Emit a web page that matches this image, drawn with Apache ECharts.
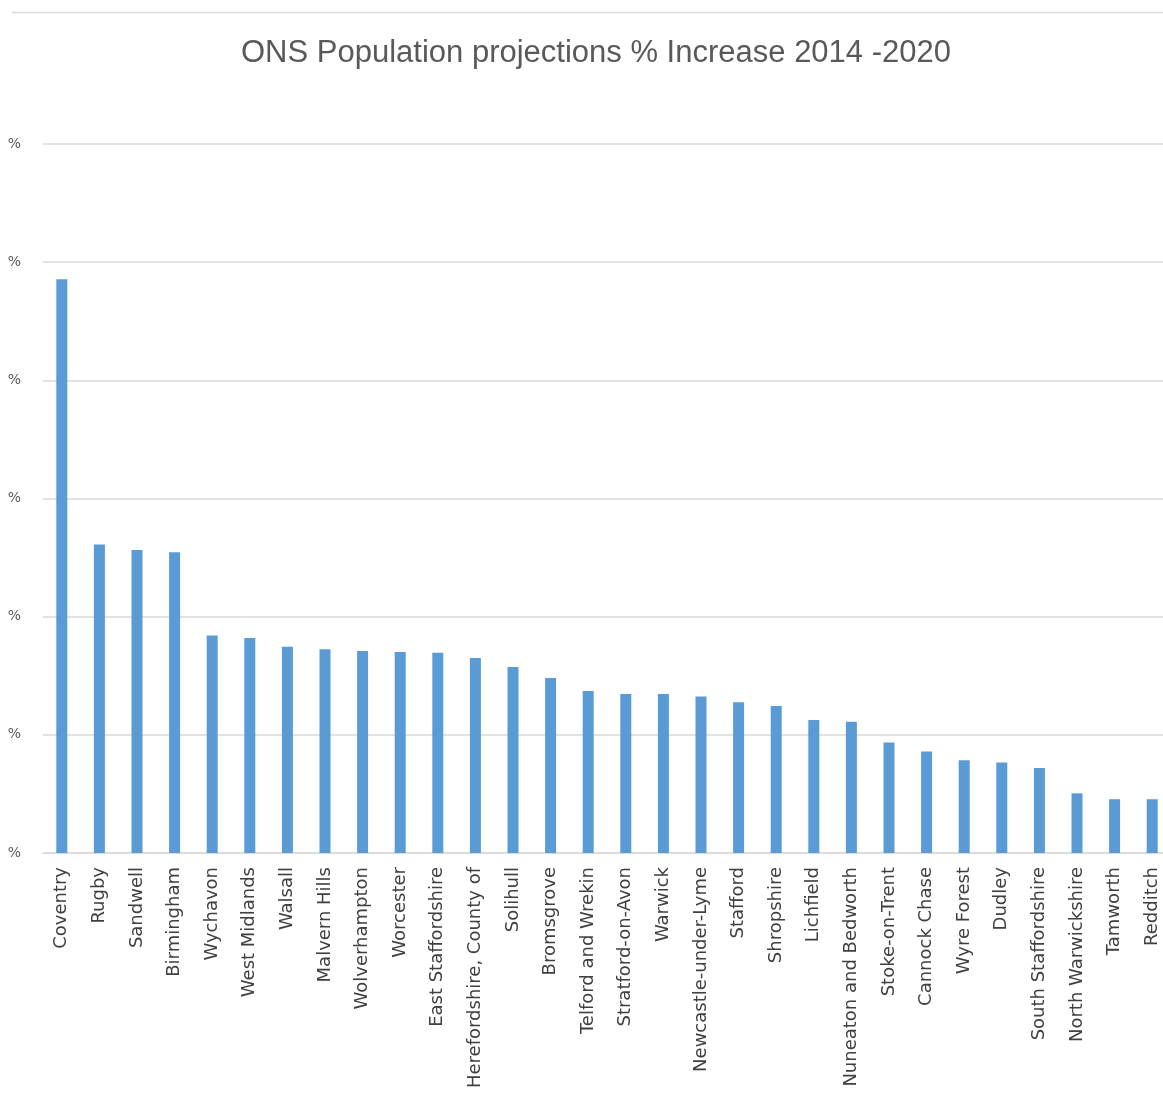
<!DOCTYPE html>
<html>
<head>
<meta charset="utf-8">
<script src="https://cdn.jsdelivr.net/npm/echarts@6/dist/echarts.min.js"></script>
<style>html,body{margin:0;padding:0;background:#fff;}#c{width:1163px;height:1099px;}</style>
</head>
<body>
<div id="c"></div>
<script>
const titleText = 'ONS Population projections % Increase 2014 -2020';
const categories = ['Coventry','Rugby','Sandwell','Birmingham','Wychavon','West Midlands','Walsall','Malvern Hills','Wolverhampton','Worcester','East Staffordshire','Herefordshire, County of','Solihull','Bromsgrove','Telford and Wrekin','Stratford-on-Avon','Warwick','Newcastle-under-Lyme','Stafford','Shropshire','Lichfield','Nuneaton and Bedworth','Stoke-on-Trent','Cannock Chase','Wyre Forest','Dudley','South Staffordshire','North Warwickshire','Tamworth','Redditch'];
const increasePct = [9.71,5.22,5.13,5.09,3.68,3.64,3.49,3.45,3.42,3.40,3.39,3.30,3.15,2.96,2.74,2.69,2.69,2.65,2.55,2.49,2.25,2.22,1.87,1.72,1.57,1.53,1.44,1.01,0.91,0.91];
const yTickValues = [0,2,4,6,8,10,12];
const yTickLabels = ['%','%','%','%','%','%','%'];

const chart = echarts.init(document.getElementById('c'));
chart.setOption({
  animation: false,
  backgroundColor: '#fff',
  title: {
    text: titleText,
    left: 236,
    top: 33,
    textStyle: {fontFamily: 'Liberation Sans, Arial', fontSize: 31, fontWeight: 'normal', color: '#595959'}
  },
  graphic: [{type: 'line', shape: {x1: 12, y1: 12.5, x2: 1163, y2: 12.5}, style: {stroke: '#d9d9d9', lineWidth: 1.5}}],
  grid: {left: 43, width: 1128, top: 144, bottom: 246, containLabel: false, outerBoundsMode: 'none'},
  xAxis: {
    type: 'category',
    data: categories,
    axisTick: {show: false},
    axisLine: {lineStyle: {color: '#d9d9d9', width: 1.5}},
    axisLabel: {rotate: 90, interval: 0, margin: 14, fontFamily: 'DejaVu Sans, Arial', fontSize: 18, color: '#404040'}
  },
  yAxis: {
    type: 'value',
    min: 0, max: 12, interval: 2,
    axisLine: {show: false},
    axisTick: {show: false},
    splitLine: {lineStyle: {color: '#d9d9d9', width: 1.5}},
    axisLabel: {
      margin: 22,
      fontFamily: 'DejaVu Sans, Arial', fontSize: 14, color: '#595959',
      formatter: function (v) { const i = yTickValues.indexOf(v); return i >= 0 ? yTickLabels[i] : ''; }
    }
  },
  series: [{
    type: 'bar',
    data: increasePct,
    barWidth: 11,
    itemStyle: {color: '#5b9bd5'}
  }]
});
</script>
</body>
</html>
